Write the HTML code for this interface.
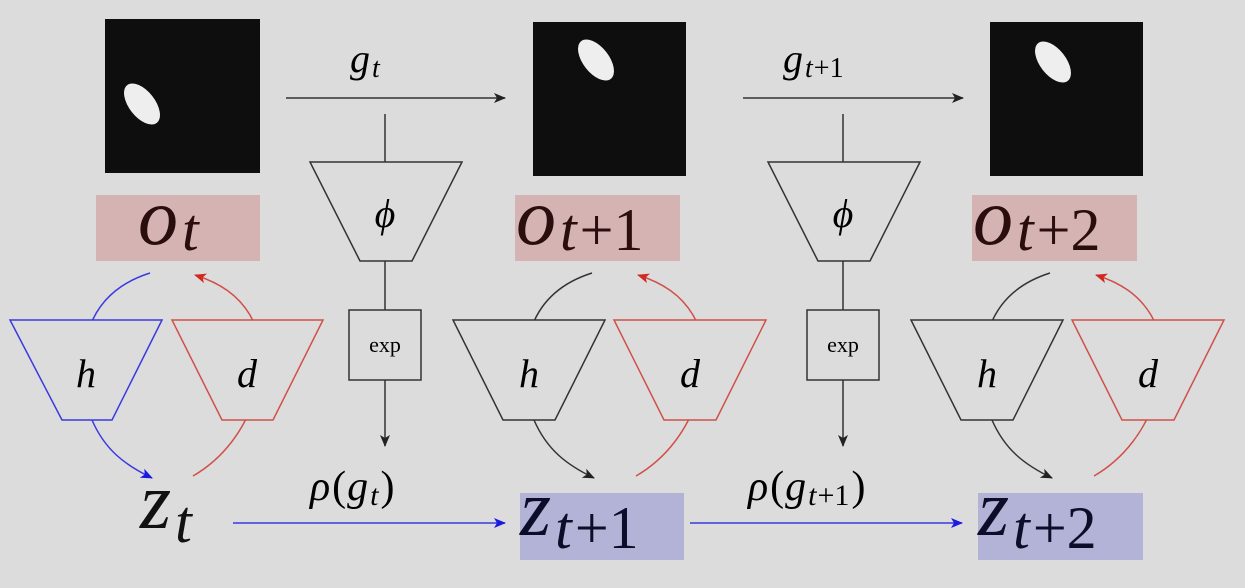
<!DOCTYPE html>
<html><head><meta charset="utf-8"><style>
html,body{margin:0;padding:0;background:#dcdcdc;}
svg{display:block;}
text{font-family:"Liberation Serif",serif;}
.it{font-style:italic;}
</style></head><body>
<svg width="1245" height="588" viewBox="0 0 1245 588">
<defs>
<marker id="ak" markerWidth="12" markerHeight="10" refX="11" refY="5" orient="auto" markerUnits="userSpaceOnUse"><path d="M0,0 L12,5 L0,10 L3,5 Z" fill="#222"/></marker>
<marker id="ab" markerWidth="12" markerHeight="10" refX="11" refY="5" orient="auto" markerUnits="userSpaceOnUse"><path d="M0,0 L12,5 L0,10 L3,5 Z" fill="#1a1ae0"/></marker>
<marker id="ar" markerWidth="12" markerHeight="10" refX="11" refY="5" orient="auto" markerUnits="userSpaceOnUse"><path d="M0,0 L12,5 L0,10 L3,5 Z" fill="#d02a20"/></marker>
</defs>
<rect width="1245" height="588" fill="#dcdcdc"/>

<g><rect x="105" y="19" width="155" height="154" fill="#0e0e0e"/><ellipse cx="142" cy="104" rx="13" ry="24" transform="rotate(-38 142 104)" fill="#eee"/></g>
<g><rect x="533" y="22" width="153" height="154" fill="#0e0e0e"/><ellipse cx="596" cy="60" rx="13" ry="24" transform="rotate(-38 596 60)" fill="#eee"/></g>
<g><rect x="990" y="22" width="153" height="154" fill="#0e0e0e"/><ellipse cx="1053" cy="62" rx="13" ry="24" transform="rotate(-38 1053 62)" fill="#eee"/></g>

<line x1="286" y1="98" x2="505" y2="98" stroke="#333" stroke-width="1.5" marker-end="url(#ak)"/>
<text x="350" y="72" font-size="40" class="it">g<tspan font-size="28" dy="5" dx="2">t</tspan></text>
<line x1="743" y1="98" x2="963" y2="98" stroke="#333" stroke-width="1.5" marker-end="url(#ak)"/>
<text x="783" y="72" font-size="40" class="it">g<tspan font-size="28" dy="5" dx="2">t</tspan><tspan font-size="28" font-style="normal" dx="1">+1</tspan></text>

<g stroke="#333" stroke-width="1.5" fill="none">
<line x1="385" y1="114" x2="385" y2="162"/>
<polygon points="310,162 462,162 412,261 360,261" fill="#dcdcdc"/>
<line x1="385" y1="261" x2="385" y2="310"/>
<rect x="349" y="310" width="72" height="70" fill="#dcdcdc"/>
<line x1="385" y1="380" x2="385" y2="446" marker-end="url(#ak)"/>
</g>
<text x="385" y="227" font-size="40" class="it" text-anchor="middle">ϕ</text>
<text x="385" y="352" font-size="22" text-anchor="middle">exp</text>
<g stroke="#333" stroke-width="1.5" fill="none">
<line x1="843" y1="114" x2="843" y2="162"/>
<polygon points="768,162 920,162 870,261 818,261" fill="#dcdcdc"/>
<line x1="843" y1="261" x2="843" y2="310"/>
<rect x="807" y="310" width="72" height="70" fill="#dcdcdc"/>
<line x1="843" y1="380" x2="843" y2="446" marker-end="url(#ak)"/>
</g>
<text x="843" y="227" font-size="40" class="it" text-anchor="middle">ϕ</text>
<text x="843" y="352" font-size="22" text-anchor="middle">exp</text>

<text x="310" y="500" font-size="42"><tspan class="it">ρ</tspan><tspan dx="2">(</tspan><tspan class="it" dx="1">g</tspan><tspan font-size="30" dy="5" class="it" dx="2">t</tspan><tspan dy="-5" dx="2">)</tspan></text>
<text x="748" y="500" font-size="42"><tspan class="it">ρ</tspan><tspan dx="2">(</tspan><tspan class="it" dx="1">g</tspan><tspan font-size="30" dy="5" class="it" dx="2">t</tspan><tspan font-size="30" dx="1">+1</tspan><tspan dy="-5" dx="2">)</tspan></text>

<line x1="233" y1="523" x2="505" y2="523" stroke="#3a3ae0" stroke-width="1.5" marker-end="url(#ab)"/>
<line x1="690" y1="523" x2="962" y2="523" stroke="#3a3ae0" stroke-width="1.5" marker-end="url(#ab)"/>

<rect x="96" y="195" width="164" height="66" fill="#d6b3b3"/>
<rect x="515" y="195" width="165" height="66" fill="#d6b3b3"/>
<rect x="972" y="195" width="165" height="66" fill="#d6b3b3"/>
<rect x="520" y="493" width="164" height="67" fill="#b3b3d8"/>
<rect x="978" y="493" width="165" height="67" fill="#b3b3d8"/>

<text x="138" y="244" font-size="80" class="it" fill="#2a0d0d">o<tspan font-size="60" dy="6" dx="4">t</tspan></text>
<text x="516" y="244" font-size="80" class="it" fill="#2a0d0d">o<tspan font-size="60" dy="6" dx="4">t</tspan><tspan font-size="60" font-style="normal" dx="3">+1</tspan></text>
<text x="973" y="244" font-size="80" class="it" fill="#2a0d0d">o<tspan font-size="60" dy="6" dx="4">t</tspan><tspan font-size="60" font-style="normal" dx="3">+2</tspan></text>
<text x="140" y="528" font-size="80" class="it" fill="#111">z<tspan font-size="60" dy="14" dx="4">t</tspan></text>
<text x="520" y="535" font-size="80" class="it" fill="#0d0d2a">z<tspan font-size="60" dy="13" dx="4">t</tspan><tspan font-size="60" font-style="normal" dx="3">+1</tspan></text>
<text x="978" y="535" font-size="80" class="it" fill="#0d0d2a">z<tspan font-size="60" dy="13" dx="4">t</tspan><tspan font-size="60" font-style="normal" dx="3">+2</tspan></text>

<g fill="none" stroke-width="1.5">
<path d="M150,273 C90,292 70,345 92,420 C105,450 125,465 152,478" stroke="#3a3ae0" marker-end="url(#ab)"/>
<path d="M193,476 C255,440 275,360 250,315 C238,295 220,283 195,275" stroke="#d0504a" marker-end="url(#ar)"/>
<polygon points="10,320 162,320 112,420 62,420" fill="#dcdcdc" stroke="#3a3ae0"/>
<polygon points="172,320 323,320 273,420 222,420" fill="#dcdcdc" stroke="#d0504a"/>
</g>
<g fill="none" stroke-width="1.5">
<path d="M592,273 C532,292 512,345 534,420 C547,450 567,465 594,478" stroke="#333" marker-end="url(#ak)"/>
<path d="M636,476 C698,440 718,360 693,315 C681,295 663,283 638,275" stroke="#d0504a" marker-end="url(#ar)"/>
<polygon points="453,320 605,320 555,420 503,420" fill="#dcdcdc" stroke="#333"/>
<polygon points="614,320 766,320 716,420 664,420" fill="#dcdcdc" stroke="#d0504a"/>
</g>
<g fill="none" stroke-width="1.5">
<path d="M1050,273 C990,292 970,345 992,420 C1005,450 1025,465 1052,478" stroke="#333" marker-end="url(#ak)"/>
<path d="M1094,476 C1156,440 1176,360 1151,315 C1139,295 1121,283 1096,275" stroke="#d0504a" marker-end="url(#ar)"/>
<polygon points="911,320 1063,320 1013,420 961,420" fill="#dcdcdc" stroke="#333"/>
<polygon points="1072,320 1224,320 1174,420 1122,420" fill="#dcdcdc" stroke="#d0504a"/>
</g>
<text x="86" y="387" font-size="40" class="it" text-anchor="middle">h</text>
<text x="247" y="387" font-size="40" class="it" text-anchor="middle">d</text>
<text x="529" y="387" font-size="40" class="it" text-anchor="middle">h</text>
<text x="690" y="387" font-size="40" class="it" text-anchor="middle">d</text>
<text x="987" y="387" font-size="40" class="it" text-anchor="middle">h</text>
<text x="1148" y="387" font-size="40" class="it" text-anchor="middle">d</text>
</svg>
</body></html>
